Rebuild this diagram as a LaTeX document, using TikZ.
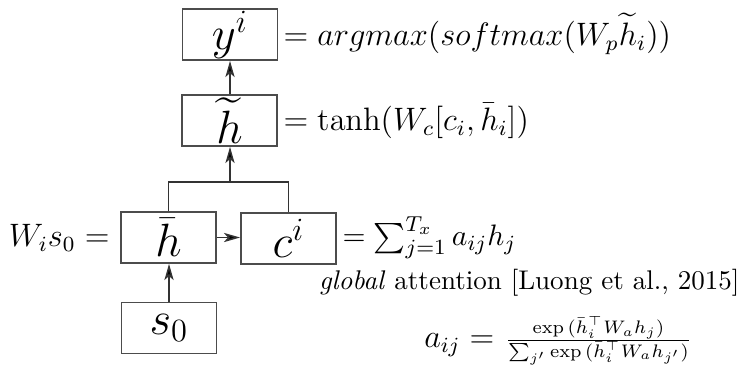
\documentclass[tikz,border=0pt]{standalone}
\usepackage{amsmath,amssymb}
\usepackage{graphicx}
\usetikzlibrary{arrows.meta}
\begin{document}
\begin{tikzpicture}[x=0.37pt,y=-0.37pt,
  box/.style={draw=black!70, line width=0.6pt, minimum width=35.2pt, minimum height=18.9pt, inner sep=0pt, font=\LARGE},
  conn/.style={draw=black!80, line width=0.55pt},
  arr/.style={conn, -{Stealth[length=6pt,width=3.4pt,inset=1.5pt,fill=black]}},
  lbl/.style={inner sep=0pt, font=\large},
  cite/.style={inner sep=0pt, font=\normalsize}]
\useasboundingbox (0,0) rectangle (741,375);
\node[box] (yb) at (230,34.5) {$y^i$};
\node[box] (ht) at (229.5,120.5) {$\widetilde{h}$};
\node[box] (hb) at (168.5,237.5) {$\bar{h}$};
\node[box] (cb) at (288.5,238.5) {$c^i$};
\node[box] (sb) at (169,328) {$s_0$};
\coordinate (jn) at (230,182);
\draw[arr] (ht.north -| yb.south) -- (yb.south);
\draw[conn] (hb.north) |- (jn) -| (cb.north);
\draw[arr] (jn) -- (jn |- ht.south);
\draw[arr] (hb.east) -- (hb.east -| cb.west);
\draw[arr] (sb.north) -- (sb.north |- hb.south);
\node[lbl, anchor=west] (ey) at (283,34) {$= argmax(softmax(W_p\widetilde{h}_i))$};
\node[lbl, anchor=west] (eh) at (283,121) {$= \tanh(W_c[c_i,\bar{h}_i])$};
\node[lbl, anchor=east] (ew) at (110,238) {$W_i s_0 =$};
\node[inner sep=0pt, font=\fontsize{11.2}{13}\selectfont, anchor=west] (ec) at (342,238) {$= \sum_{j=1}^{T_x} a_{ij}h_j$};
\node[cite, anchor=east] (ga) at (740,283) {\textit{global} attention [Luong et al., 2015]};
\node[inner sep=0pt, font=\large] (aij) at (558,341) {$a_{ij} =$ \raisebox{0.3pt}{\normalsize\scalebox{0.96}{$\frac{\exp\,(\bar{h}_i^{\top} W_a h_j)}{\sum_{j'}\exp\,(\bar{h}_i^{\top} W_a h_{j'})}$}}};
\end{tikzpicture}
\end{document}
